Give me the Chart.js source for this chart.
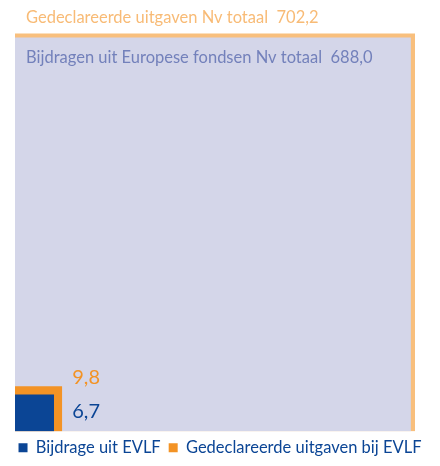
<!DOCTYPE html>
<html>
<head>
<meta charset="utf-8">
<script src="https://cdn.jsdelivr.net/npm/chart.js@4.4.1/dist/chart.umd.min.js"></script>
<style>
  body { margin: 0; background: #fff; }
  #wrap { width: 440px; height: 466px; }
</style>
</head>
<body>
<div id="wrap"><canvas id="myChart"></canvas></div>
<script>
// values (mln euro), drawn as squares with area proportional to value
const labels = ['Bijdrage uit EVLF', 'Gedeclareerde uitgaven bij EVLF', 'Bijdragen uit Europese fondsen Nv totaal', 'Gedeclareerde uitgaven Nv totaal'];
const values = [6.7, 9.8, 688.0, 702.2];
const colors = ['#0b4595', '#f39325', '#d4d6e9', '#f8bf7d'];
const textColors = ['#0b4595', '#f39325', '#7381bb', '#f8bb76'];
const inLegend = [true, true, false, false];

const fmt = v => v.toFixed(1).replace('.', ',');
const side = v => Math.sqrt(v);

// where the squares sit on the canvas
const originX = 15;
const originY = 433.5;
const bigSquarePx = 400;

// a square = top edge from (0,s) to (s,s), filled down to 0
const datasets = values.map((v, i) => ({
  label: labels[i],
  data: [{ x: 0, y: side(v) }, { x: side(v), y: side(v) }],
  backgroundColor: colors[i],
  borderColor: colors[i],
  borderWidth: 0,
  pointRadius: 0,
  fill: 'origin',
  clip: false,
  order: i + 1
}));

const textPlugin = {
  id: 'squareText',
  afterDatasetsDraw(chart) {
    const x = chart.scales.x, y = chart.scales.y;
    const ctx = chart.ctx;
    ctx.save();
    ctx.textBaseline = 'alphabetic';
    ctx.textAlign = 'left';
    // totals: label top-left
    ctx.font = '16.5px Lato';
    ctx.fillStyle = textColors[3];
    ctx.fillText(labels[3] + '  ' + fmt(values[3]), x.getPixelForValue(0) + 11, y.getPixelForValue(side(values[3])) - 10.5);
    ctx.fillStyle = textColors[2];
    ctx.fillText(labels[2] + '  ' + fmt(values[2]), x.getPixelForValue(0) + 11, y.getPixelForValue(side(values[2])) + 25);
    // small ones: value to the right
    ctx.font = '20px Lato';
    ctx.fillStyle = textColors[1];
    ctx.fillText(fmt(values[1]), x.getPixelForValue(side(values[1])) + 10, y.getPixelForValue(side(values[1])) - 2);
    ctx.fillStyle = textColors[0];
    ctx.fillText(fmt(values[0]), x.getPixelForValue(side(values[1])) + 10, y.getPixelForValue(0) - 15.5);
    ctx.restore();
  }
};

const chart = new Chart(document.getElementById('myChart'), {
  type: 'scatter',
  data: { datasets: datasets },
  options: {
    responsive: true,
    maintainAspectRatio: false,
    animation: false,
    showLine: true,
    layout: { padding: 0 },
    scales: {
      x: { type: 'linear', min: 0, max: 30, display: false },
      y: { type: 'linear', min: 0, max: 30, display: false }
    },
    plugins: {
      tooltip: { enabled: false },
      legend: {
        position: 'bottom',
        labels: {
          filter: (item) => inLegend[item.datasetIndex],
          boxWidth: 9,
          boxHeight: 9,
          padding: 8,
          color: '#0b4595',
          font: { family: 'Lato', size: 16.5 }
        }
      }
    }
  },
  plugins: [textPlugin]
});

// equal units on both axes, origin at (originX, originY)
const area = chart.chartArea;
const pxPerUnit = bigSquarePx / side(Math.max(...values));
chart.options.scales.x.min = -(originX - area.left) / pxPerUnit;
chart.options.scales.x.max = chart.options.scales.x.min + (area.right - area.left) / pxPerUnit;
chart.options.scales.y.min = -(area.bottom - originY) / pxPerUnit;
chart.options.scales.y.max = chart.options.scales.y.min + (area.bottom - area.top) / pxPerUnit;
chart.update();
</script>
</body>
</html>
